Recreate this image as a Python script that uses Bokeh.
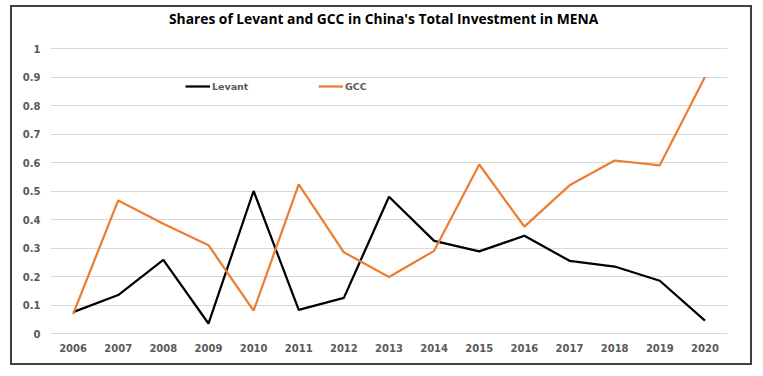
from bokeh.plotting import figure
from bokeh.models import FixedTicker, Legend, LegendItem, FactorRange, Range1d
from bokeh.core.properties import value
from bokeh.embed import file_html
from bokeh.resources import INLINE

years = [str(y) for y in range(2006, 2021)]
levant = [0.075, 0.135, 0.258, 0.035, 0.50, 0.083, 0.125, 0.48, 0.325, 0.288, 0.343, 0.255, 0.235, 0.185, 0.045]
gcc = [0.068, 0.467, 0.385, 0.31, 0.08, 0.523, 0.285, 0.198, 0.29, 0.593, 0.375, 0.52, 0.607, 0.59, 0.90]
y_ticks = [0, 0.1, 0.2, 0.3, 0.4, 0.5, 0.6, 0.7, 0.8, 0.9, 1.0]
y_tick_labels = ["0", "0.1", "0.2", "0.3", "0.4", "0.5", "0.6", "0.7", "0.8", "0.9", "1"]
title_text = "Shares of Levant and GCC in China's Total Investment in MENA"

# outer page offsets: canvas starts at (12, 7) inside a 2px border
p = figure(width=738, height=356, output_backend="svg", toolbar_location=None,
           x_range=FactorRange(*years, range_padding=0),
           y_range=Range1d(-5/285, 326/285),
           min_border_left=38, min_border_right=27, min_border_top=0, min_border_bottom=29)
p.styles = {"border": "2px solid #404040", "margin-left": "10px", "margin-top": "5px",
            "box-sizing": "content-box"}
p.outline_line_color = None
p.background_fill_color = "white"
p.border_fill_color = "white"

p.xgrid.grid_line_color = None
p.ygrid.grid_line_color = "#d9d9d9"
p.ygrid.grid_line_width = 1
p.yaxis.ticker = FixedTicker(ticks=y_ticks)
p.yaxis.major_label_overrides = {t: l for t, l in zip(y_ticks, y_tick_labels)}
p.ygrid.ticker = FixedTicker(ticks=y_ticks)

for ax in (p.xaxis, p.yaxis):
    ax.axis_line_color = None
    ax.major_tick_line_color = None
    ax.minor_tick_line_color = None
    ax.major_tick_out = 0
    ax.major_tick_in = 0
    ax.major_label_text_font = "DejaVu Sans"
    ax.major_label_text_font_style = "bold"
    ax.major_label_text_font_size = "10px"
    ax.major_label_text_color = "#595959"
p.yaxis.major_label_standoff = 10
p.xaxis.major_label_standoff = 5

r_lev = p.line(years, levant, line_color="black", line_width=2.25)
r_gcc = p.line(years, gcc, line_color="#ed7d31", line_width=2.25)

p.text(x=[7.38], y=[(333 - 18) / 285], text=[title_text], text_font=value("Open Sans"),
       text_font_style="bold", text_font_size="13.8px", text_align="center",
       text_baseline="middle", text_color="black")

legend = Legend(items=[LegendItem(label="Levant", renderers=[r_lev]),
                       LegendItem(label="GCC", renderers=[r_gcc])],
                orientation="horizontal", location=(135, 244),
                glyph_width=25, glyph_height=16, label_height=16, label_width=100,
                label_standoff=2, spacing=6, padding=0, margin=0,
                border_line_color=None, background_fill_alpha=0,
                label_text_font="DejaVu Sans", label_text_font_style="bold",
                label_text_font_size="9.5px", label_text_color="#595959")
p.add_layout(legend, "center")

open("out.html", "w").write(file_html(p, INLINE))
